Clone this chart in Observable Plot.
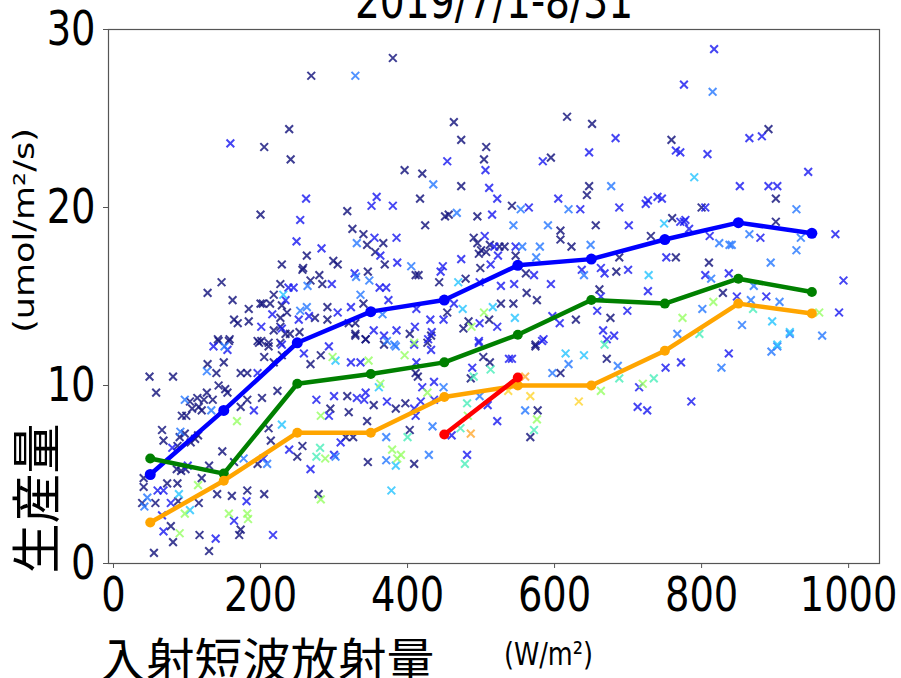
<!DOCTYPE html>
<html>
<head>
<meta charset="utf-8">
<script src="https://cdn.jsdelivr.net/npm/d3@7"></script>
<script src="https://cdn.jsdelivr.net/npm/@observablehq/plot@0.6"></script>
<style>
  html, body { margin: 0; padding: 0; background: white; }
  #chart { width: 901px; height: 678px; overflow: hidden; }
</style>
</head>
<body>
<div id="chart"></div>
<script>
// ---- text ----
const titleText = "2019/7/1-8/31";
const xLabel = "入射短波放射量";
const xUnit = "(W/m²)";
const yLabel = "生産量";
const yUnit = "(umol/m²/s)";

// ---- axes ----
const xTicks = [0, 200, 400, 600, 800, 1000];
const yTicks = [0, 10, 20, 30];

// ---- binned mean lines ----
const binX = [50, 150, 250, 350, 450, 550, 650, 750, 850, 950];
const blueY = [5.0, 8.6, 12.4, 14.15, 14.8, 16.75, 17.1, 18.2, 19.15, 18.55];
const greenY = [5.9, 5.05, 10.1, 10.65, 11.3, 12.85, 14.8, 14.6, 16.0, 15.25];
const orangeY = [2.3, 4.65, 7.35, 7.35, 9.35, 10.0, 10.0, 11.95, 14.6, 14.05];
const redX = [450, 550];
const redY = [7.25, 10.45];

// ---- scatter points, grouped by colour class ----
const darkPts = [[205,23.4],[239,24.4],[241,22.7],[200,19.6],[263,17.3],[229,16.8],[257,16.5],[280,16.2],[299,17.0],[305,16.8],[318,19.8],[325,18.8],[340,18.5],[345,17.9],[367,18.0],[356,17.5],[369,16.8],[346,16.4],[340,14.6],[291,14.4],[274,13.8],[227,15.7],[218,15.1],[268,15.9],[284,15.7],[258,16.6],[128,15.2],[147,15.8],[162,14.8],[164,13.7],[169,13.5],[184,14.3],[184,13.6],[200,14.6],[203,14.6],[213,14.6],[229,14.5],[227,13.8],[236,14.1],[218,13.1],[227,13.3],[234,12.9],[253,13.0],[240,12.9],[291,13.7],[320,13.5],[329,13.5],[329,12.9],[343,12.6],[142,12.6],[158,12.6],[196,12.5],[201,12.5],[211,12.2],[227,12.4],
  [463,24.8],[473,23.8],[507,23.4],[504,22.7],[396,22.1],[420,21.9],[473,21.2],[417,20.5],[542,20.1],[495,19.5],[451,19.5],[456,19.6],[424,19.0],[617,25.1],[651,24.7],[595,22.8],[647,21.2],[644,20.7],[656,19.0],[608,18.7],[608,18.2],[623,17.8],[547,17.3],[490,18.3],[495,18.0],[500,17.6],[497,17.4],[507,17.5],[512,17.9],[525,17.8],[532,17.8],[499,16.6],[411,16.2],[415,16.2],[443,15.8],[479,16.0],[561,16.3],[684,16.4],[688,17.2],[765,17.2],[760,19.4],[731,18.4],[759,23.8],[661,15.4],[676,13.8],[629,13.7],[576,14.8],[562,15.2],[544,14.6],[527,14.6],[511,13.7],[483,13.6],[476,13.2],[454,14.1],[574,12.2],
  [49,10.5],[81,10.5],[58,9.6],[66,7.5],[68,6.9],[41,4.8],[41,4.3],[39,3.4],[57,3.4],[73,4.5],[87,4.5],[88,3.5],[86,5.3],[92,5.2],[98,5.3],[116,3.4],[78,2.1],[81,1.2],[55,0.6],[117,1.6],[130,0.7],[141,3.9],[161,3.8],[173,1.9],[171,1.6],[182,4.1],[205,3.9],[196,5.6],[164,5.7],[148,6.3],[130,5.5],[120,4.8],[87,6.6],[90,7.1],[97,7.3],[105,6.8],[111,7.0],[115,7.2],[93,8.3],[99,8.3],[107,8.7],[116,8.8],[120,8.6],[135,9.2],[123,9.2],[114,9.3],[104,9.1],[127,9.6],[143,10.0],[152,9.8],[155,9.6],[140,10.7],[150,11.3],[143,12.5],[157,12.5],[128,11.2],[173,8.8],[182,9.2],[202,9.3],[173,10.7],[182,10.7],[205,11.6],[198,12.4],[211,12.4],[218,11.3],[223,9.7],[211,7.6],[214,6.9],[257,6.6],[250,6.0],[229,11.7],[268,11.2],[282,11.7],[295,8.7],[320,8.5],[318,9.4],[354,8.9],[345,8.0],[384,8.7],[329,12.8],[343,12.6],[368,12.3],[316,7.1],[326,7.1],[346,5.7],[279,3.9],
  [403,12.9],[427,12.4],[432,12.8],[411,10.7],[414,10.5],[397,9.0],[403,7.5],[409,5.6],[486,10.4],[503,11.6],[512,11.3],[574,12.3],[577,8.6],[567,7.1],[608,10.7],[671,11.5],
  [891,24.4],[901,20.5],[800,20.0],[901,19.2],[810,16.9],[829,15.2],[269,27.4],[380,28.4]];
const bluePts = [[159,23.6],[262,20.5],[254,19.3],[249,18.1],[283,17.7],[358,20.6],[351,20.1],[380,20.1],[355,18.3],[363,17.3],[385,18.3],[386,16.9],[328,16.3],[362,15.5],[371,15.5],[374,14.8],[323,14.4],[305,14.1],[266,13.9],[252,13.7],[238,15.5],[245,15.5],[234,14.8],[297,15.7],[216,14.0],[229,13.2],[201,13.3],[354,13.1],[368,12.8],[385,13.1],[136,12.2],[293,12.2],
  [506,22.1],[454,22.6],[511,21.1],[522,20.5],[565,20.0],[515,19.6],[683,23.9],[647,23.1],[584,22.6],[605,20.5],[635,19.9],[688,20.0],[547,17.8],[505,18.4],[518,17.8],[523,17.3],[513,16.8],[473,17.1],[448,16.7],[445,16.4],[498,15.8],[527,15.6],[545,15.7],[572,16.2],[595,15.7],[637,16.5],[663,16.6],[668,16.3],[700,16.5],[701,19.0],[727,15.3],[752,17.2],[771,19.2],[778,19.3],[724,20.2],[727,20.4],[740,20.6],[746,20.5],[765,23.2],[771,23.1],[805,20.0],[663,15.0],[699,14.2],[666,13.1],[671,12.6],[658,14.2],[607,13.5],[522,13.3],[498,13.5],[463,14.6],[449,13.7],[431,13.7],[433,13.0],[428,12.6],[410,13.3],[412,14.3],[497,12.5],[585,12.6],[597,13.9],
  [60,4.1],[68,4.1],[78,3.4],[66,2.7],[68,1.8],[139,1.4],[164,2.4],[181,3.5],[217,1.6],[101,5.5],[80,6.5],[155,12.0],[191,8.6],[196,10.7],[204,5.9],[239,6.4],[268,5.3],[229,12.3],[259,11.8],[300,9.4],[276,9.2],[293,8.3],[331,9.3],[343,9.6],[341,9.2],[372,9.1],[323,11.3],[336,11.3],[300,6.1],[309,6.8],
  [409,12.3],[432,12.0],[412,11.3],[420,9.9],[436,10.2],[409,8.7],[418,9.1],[411,8.3],[436,9.2],[460,7.2],[481,6.1],[509,8.9],[522,8.0],[542,11.5],[538,11.5],[488,11.0],[497,12.4],[583,12.5],[681,12.8],[715,9.9],[713,8.8],[726,8.6],[751,11.0],[772,11.3],[786,9.1],[837,11.8],
  [865,23.9],[882,24.0],[808,23.0],[945,22.0],[852,21.2],[891,21.2],[903,21.2],[776,19.2],[783,18.8],[811,18.4],[880,18.3],[982,18.5],[805,16.2],[837,16.3],[848,15.0],[888,15.0],[993,15.9],[987,14.1],[817,28.9],[776,26.9]];
const lightBluePts = [[331,18.0],[330,16.1],[348,15.9],[366,14.0],[336,15.1],[263,14.4],[254,14.2],[264,15.6],[372,12.5],[384,12.2],[151,12.2],
  [435,21.3],[467,19.7],[554,19.9],[544,19.0],[591,19.0],[677,21.2],[619,19.9],[649,17.9],[580,17.8],[575,17.2],[556,17.8],[405,16.7],[640,16.2],
  [46,3.7],[42,3.2],[209,5.6],[177,5.9],[91,7.4],[133,8.6],[97,9.2],[127,10.8],[382,12.3],[302,6.0],[371,7.1],[371,5.8],
  [449,9.9],[434,7.7],[429,6.1],[498,9.4],[560,8.6],[597,10.7],[619,11.2],[686,11.1],[827,11.0],[895,11.9],[903,12.2],[920,12.9],[964,12.8],[767,12.9],
  [929,19.9],[824,18.0],[838,17.9],[841,17.9],[865,18.5],[935,18.3],[929,17.6],[894,16.9],[813,16.0],[871,15.6],[867,14.8],[906,14.7],[801,14.3],[855,13.4],[329,27.4],[815,26.5]];
const cyanPts = [[231,15.1],[469,15.8],[728,16.2],[749,19.1],[790,21.7],[546,13.8],[516,14.4],[475,14.3],[89,3.9],[104,3.0],[229,7.8],[302,11.4],[361,9.9],[384,5.5],[378,4.1],[615,11.8],[640,11.7],[896,13.6],[920,13.0],[903,12.3]];
const aquaPts = [[281,6.5],[276,6.0],[400,7.1],[472,7.6],[481,9.0],[478,5.6],[490,10.5],[513,10.9],[572,7.5],[668,12.3],[688,10.4],[735,10.4],[797,12.9],[870,14.3]];
const greenPts = [[504,14.1],[487,13.3],[409,12.4],[97,2.8],[115,4.4],[90,1.7],[157,2.8],[182,2.8],[183,2.5],[168,8.0],[298,11.6],[282,8.3],[347,11.4],[363,10.1],[288,5.9],[379,6.4],[386,5.9],[282,3.6],[396,11.7],[427,9.6],[391,6.1],[482,8.3],[576,8.1],[663,9.7],[720,10.1],[816,14.7],[774,13.8],[960,14.1]];
const yellowPts = [[537,9.7],[567,9.4],[633,9.1]];
const orangePts = [[486,7.3],[560,10.5]];

// colours per class
const scatterGroups = [
  {pts: darkPts, color: "#14147c"},
  {pts: bluePts, color: "#1c1cf0"},
  {pts: lightBluePts, color: "#2a7aff"},
  {pts: cyanPts, color: "#28c4ff"},
  {pts: aquaPts, color: "#4deebb"},
  {pts: greenPts, color: "#99ff66"},
  {pts: yellowPts, color: "#ffd633"},
  {pts: orangePts, color: "#ffaa33"}
];

const scatterMarks = scatterGroups.map(g =>
  Plot.dot(g.pts, {x: d => d[0], y: d => d[1], symbol: "times", r: 3.6,
    stroke: g.color, strokeWidth: 2, strokeOpacity: 0.82}));

function series(xs, ys) { return xs.map((x, i) => ({x, y: ys[i]})); }
const lineSpecs = [
  {data: series(binX, blueY), color: "#0000ff", r: 5.5},
  {data: series(binX, greenY), color: "#008000", r: 5},
  {data: series(binX, orangeY), color: "#ffa500", r: 5},
  {data: series(redX, redY), color: "#ff0000", r: 5}
];
const lineMarks = lineSpecs.flatMap(s => [
  Plot.line(s.data, {x: "x", y: "y", stroke: s.color, strokeWidth: 4.5}),
  Plot.dot(s.data, {x: "x", y: "y", fill: s.color, r: s.r})
]);

const chart = Plot.plot({
  width: 901,
  height: 678,
  marginLeft: 108,
  marginRight: 22,
  marginTop: 29,
  marginBottom: 115,
  x: {domain: [-6.8, 1042]},
  y: {domain: [0, 30]},
  style: {fontFamily: "DejaVu Sans", background: "white", color: "black"},
  marks: [
    ...scatterMarks,
    ...lineMarks,
    Plot.frame({stroke: "#555", strokeWidth: 1.2}),
    Plot.axisX({ticks: xTicks, tickSize: 5, tickPadding: 8, fontSize: 48, label: null,
      stroke: "#555", fill: "black", tickFormat: d => String(d)}),
    Plot.axisY({ticks: yTicks, tickSize: 5, tickPadding: 8, fontSize: 48, label: null,
      stroke: "#555", fill: "black", tickFormat: d => String(d)}),
    Plot.text([titleText], {text: d => d, frameAnchor: "top", lineAnchor: "bottom", dy: -12,
      fontSize: 49, fill: "black"}),
    Plot.text([yUnit], {text: d => d, frameAnchor: "left", textAnchor: "middle", lineAnchor: "middle",
      rotate: -90, dx: -83, dy: -66, fontSize: 35, fill: "black"}),
    Plot.text([yLabel], {text: d => d, frameAnchor: "left", textAnchor: "middle", lineAnchor: "middle",
      rotate: -90, dx: -70, dy: 202, fontSize: 50, fontFamily: "Noto Sans CJK JP", fill: "black"}),
    Plot.text([xLabel], {text: d => d, frameAnchor: "bottom", textAnchor: "middle", lineAnchor: "bottom",
      dx: -227.5, dy: 114, fontSize: 48, fontFamily: "Noto Sans CJK JP", fill: "black"}),
    Plot.text([xUnit], {text: d => d, frameAnchor: "bottom", textAnchor: "middle", lineAnchor: "bottom",
      dx: 54.5, dy: 101, fontSize: 32, fill: "black"})
  ]
});

// horizontally condense the Latin text, as in the reference
chart.querySelectorAll("text").forEach(t => {
  if (/[\u3000-\u9fff]/.test(t.textContent)) return;
  const tr = t.getAttribute("transform") || "";
  const m = tr.match(/^translate\([^)]*\)/);
  if (m) {
    t.setAttribute("transform", m[0] + " scale(0.8,1)" + tr.slice(m[0].length));
  } else {
    const x = +t.getAttribute("x") || 0, y = +t.getAttribute("y") || 0;
    t.removeAttribute("x"); t.removeAttribute("y");
    t.setAttribute("transform", `translate(${x},${y}) scale(0.8,1) ` + tr);
  }
});

document.getElementById("chart").appendChild(chart);
</script>
</body>
</html>
